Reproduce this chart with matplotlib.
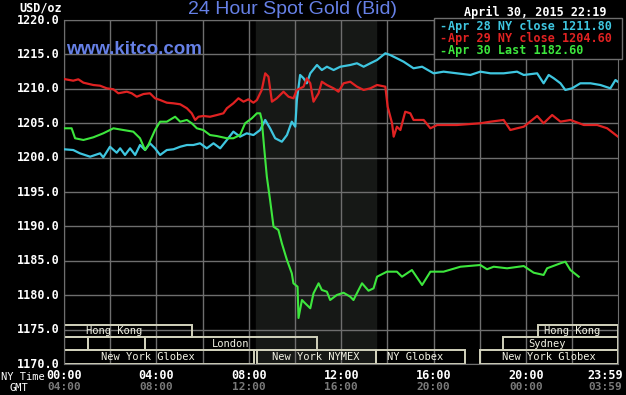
import numpy as np
import matplotlib
matplotlib.use("Agg")
import matplotlib.pyplot as plt
from matplotlib.patches import Rectangle

# Data (hours after 00:00 NY time, USD/oz)
apr28_t = [0.0, 0.40, 0.69, 1.13, 1.56, 1.70, 1.99, 2.28, 2.43, 2.64, 2.86, 3.08, 3.29, 3.51,
           3.72, 3.94, 4.16, 4.45, 4.74, 5.03, 5.32, 5.60, 5.89, 6.18, 6.47, 6.76, 7.05, 7.33,
           7.62, 7.91, 8.20, 8.49, 8.71, 8.92, 9.14, 9.43, 9.65, 9.86, 10.01, 10.08, 10.22,
           10.37, 10.51, 10.66, 10.95, 11.16, 11.38, 11.67, 11.96, 12.39, 12.68, 12.97, 13.26,
           13.55, 13.91, 14.12, 14.41, 14.70, 15.13, 15.50, 16.00, 16.43, 17.01, 17.59, 18.02,
           18.46, 19.03, 19.61, 19.90, 20.48, 20.76, 20.98, 21.20, 21.49, 21.70, 21.99, 22.35,
           22.79, 23.22, 23.65, 23.87, 23.98]
apr28_v = [1201.21, 1201.10, 1200.62, 1200.13, 1200.62, 1200.04, 1201.58, 1200.71, 1201.35,
           1200.38, 1201.35, 1200.38, 1201.83, 1201.10, 1202.08, 1201.35, 1200.38, 1201.10,
           1201.21, 1201.58, 1201.83, 1201.83, 1202.08, 1201.35, 1202.08, 1201.35, 1202.56,
           1203.77, 1203.04, 1203.53, 1203.28, 1204.01, 1205.47, 1204.26, 1202.81, 1202.31,
           1203.28, 1205.22, 1204.49, 1208.37, 1212.01, 1211.53, 1210.80, 1212.25, 1213.46,
           1212.73, 1213.21, 1212.73, 1213.21, 1213.46, 1213.71, 1213.21, 1213.71, 1214.19,
           1215.16, 1214.91, 1214.43, 1213.94, 1212.98, 1213.21, 1212.25, 1212.49, 1212.25,
           1212.01, 1212.49, 1212.25, 1212.25, 1212.49, 1212.01, 1212.25, 1210.80, 1212.01,
           1211.53, 1210.80, 1209.83, 1210.07, 1210.80, 1210.80, 1210.55, 1210.07, 1211.28,
           1211.00]

apr29_t = [0.0, 0.40, 0.62, 0.84, 1.27, 1.56, 1.85, 2.14, 2.35, 2.72, 2.93, 3.15, 3.44, 3.72,
           3.94, 4.16, 4.45, 4.74, 5.03, 5.32, 5.53, 5.68, 5.82, 6.03, 6.32, 6.62, 6.90, 7.05,
           7.33, 7.55, 7.77, 7.98, 8.20, 8.35, 8.56, 8.71, 8.85, 9.00, 9.21, 9.50, 9.72, 9.93,
           10.08, 10.37, 10.51, 10.66, 10.80, 11.02, 11.16, 11.38, 11.67, 11.88, 12.10, 12.39,
           12.68, 12.97, 13.26, 13.55, 13.91, 14.01, 14.20, 14.27, 14.41, 14.56, 14.77, 14.99,
           15.13, 15.57, 15.86, 16.15, 17.01, 18.02, 18.46, 19.03, 19.32, 19.61, 19.90, 20.48,
           20.76, 21.13, 21.49, 21.92, 22.50, 23.08, 23.51, 23.98]
apr29_v = [1211.42, 1211.18, 1211.38, 1210.89, 1210.55, 1210.45, 1210.07, 1209.93, 1209.35,
           1209.58, 1209.35, 1208.85, 1209.24, 1209.35, 1208.62, 1208.37, 1207.98, 1207.89,
           1207.75, 1207.17, 1206.44, 1205.47, 1205.94, 1206.05, 1205.94, 1206.19, 1206.44,
           1207.17, 1207.89, 1208.62, 1208.13, 1208.47, 1207.98, 1208.37, 1209.83, 1212.25,
           1211.76, 1208.13, 1208.62, 1209.58, 1208.85, 1208.62, 1209.83, 1210.31, 1211.53,
           1210.80, 1208.13, 1209.35, 1211.03, 1210.55, 1210.07, 1209.58, 1210.80, 1211.03,
           1210.31, 1209.83, 1210.07, 1210.55, 1210.31, 1207.40, 1204.99, 1203.04, 1204.49,
           1204.01, 1206.67, 1206.44, 1205.47, 1205.47, 1204.26, 1204.74, 1204.74, 1204.99,
           1205.22, 1205.47, 1204.01, 1204.26, 1204.49, 1206.05, 1204.99, 1206.19, 1205.22,
           1205.47, 1204.74, 1204.74, 1204.26, 1203.04]

apr30_t = [0.0, 0.33, 0.48, 0.84, 1.27, 1.70, 2.14, 2.57, 3.00, 3.29, 3.51, 3.65, 3.94, 4.16,
           4.45, 4.81, 5.03, 5.32, 5.53, 5.75, 6.03, 6.32, 6.62, 7.05, 7.33, 7.62, 7.84, 8.13,
           8.35, 8.49, 8.56, 8.66, 8.78, 8.92, 9.07, 9.28, 9.43, 9.65, 9.86, 9.93, 10.11, 10.15,
           10.30, 10.44, 10.66, 10.80, 11.02, 11.16, 11.38, 11.52, 11.81, 12.10, 12.39, 12.53,
           12.75, 12.90, 13.18, 13.40, 13.55, 13.98, 14.41, 14.63, 15.06, 15.50, 15.86, 16.43,
           17.16, 18.02, 18.31, 18.60, 19.18, 19.90, 20.33, 20.76, 20.91, 21.49, 21.70, 21.92,
           22.28]
apr30_v = [1204.26, 1204.26, 1202.81, 1202.56, 1202.95, 1203.53, 1204.26, 1204.01, 1203.77,
           1202.81, 1201.10, 1201.83, 1204.01, 1205.22, 1205.22, 1205.94, 1205.22, 1205.47,
           1204.99, 1204.26, 1204.01, 1203.28, 1203.13, 1202.81, 1202.81, 1203.28, 1204.99,
           1205.71, 1206.44, 1206.44, 1205.47, 1201.58, 1197.22, 1193.84, 1189.96, 1189.48,
           1187.54, 1185.12, 1183.18, 1181.73, 1181.24, 1176.69, 1179.30, 1178.82, 1178.10,
           1180.28, 1181.73, 1180.76, 1180.51, 1179.30, 1180.03, 1180.36, 1179.78, 1179.30,
           1180.76, 1181.73, 1180.65, 1181.00, 1182.69, 1183.42, 1183.42, 1182.69, 1183.66,
           1181.48, 1183.42, 1183.42, 1184.14, 1184.39, 1183.77, 1184.14, 1183.91, 1184.24,
           1183.27, 1182.94, 1183.91, 1184.64, 1184.87, 1183.66, 1182.69]

legend_labels = ["Apr 28 NY close 1211.80", "Apr 29 NY close 1204.60", "Apr 30 Last 1182.60"]

ny_ticks = [0, 4, 8, 12, 16, 20, 23.98]
ny_labels = ["00:00", "04:00", "08:00", "12:00", "16:00", "20:00", "23:59"]
gmt_labels = ["04:00", "08:00", "12:00", "16:00", "20:00", "00:00", "03:59"]

# trading sessions: name, row (0 = top), start, end, label position (hours)
sessions = [
    ("Hong Kong", 0, 0.0, 5.55, 2.15),
    ("Hong Kong", 0, 20.5, 23.98, 22.0),
    ("", 1, 0.0, 1.04, None),
    ("", 1, 1.04, 3.5, None),
    ("London", 1, 3.5, 10.96, 7.2),
    ("Sydney", 1, 19.0, 23.98, 20.9),
    ("New York Globex", 2, 0.0, 8.23, 3.64),
    ("New York NYMEX", 2, 8.36, 13.5, 10.9),
    ("NY Globex", 2, 13.5, 17.37, 15.2),
    ("New York Globex", 2, 18.0, 23.98, 20.97),
]
nymex_open, nymex_close = 8.33, 13.5

cyan = "#3fc6e0"
red = "#e02222"
green = "#3de63d"
blue = "#6680e6"
grid_c = "#6e6e6e"
mono = "DejaVu Sans Mono"

fig = plt.figure(figsize=(6.26, 3.95), dpi=100, facecolor="black")
ax = fig.add_axes([64 / 626, 31 / 395, 554 / 626, 344 / 395])
ax.set_facecolor("black")
ax.set_xlim(0, 23.98)
ax.set_ylim(1170, 1220)

# NYMEX shading
ax.axvspan(nymex_open, nymex_close, color="#161816", zorder=0)

# grid
ax.set_xticks(np.arange(0, 24, 2))
ax.set_yticks(np.arange(1170, 1221, 5))
ax.grid(True, color=grid_c, lw=1, zorder=1)
ax.tick_params(length=0, labelbottom=False, labelleft=False)
for s in ax.spines.values():
    s.set_color(grid_c)

# series
ax.plot(apr28_t, apr28_v, color=cyan, lw=1.6, zorder=3)
ax.plot(apr29_t, apr29_v, color=red, lw=1.6, zorder=3)
ax.plot(apr30_t, apr30_v, color=green, lw=1.5, zorder=4)

# session boxes
row_h = [1175.7, 1173.9, 1172.0, 1170.0]
for name, row, t0, t1, tx in sessions:
    y0 = row_h[row + 1]
    y1 = row_h[row]
    ax.add_patch(Rectangle((t0, y0), t1 - t0, y1 - y0, fill=False, ec="#d2d2bc", lw=1.4, zorder=2))
    if name:
        ax.text(tx, (y0 + y1) / 2, name, color="#f2f2e4", fontsize=7.5, family=mono,
                ha="center", va="center", zorder=5)

# y labels
for v in np.arange(1170, 1221, 5):
    ax.text(-0.17, v, "%.1f" % v, color="white", fontsize=8.5, family=mono, weight="bold",
            ha="right", va="center", transform=ax.transData, clip_on=False)

# x labels, NY time and GMT
trans = ax.get_xaxis_transform()
for t, a, b in zip(ny_ticks, ny_labels, gmt_labels):
    tx = t if t < 23 else 23.44
    ax.text(tx, -0.032, a, color="white", fontsize=8.5, family=mono, weight="bold",
            ha="center", va="center", transform=trans, clip_on=False)
    ax.text(tx, -0.068, b, color="#7a7a7a", fontsize=8, family=mono, weight="bold",
            ha="center", va="center", transform=trans, clip_on=False)
fig.text(1 / 626, 1 - 377 / 395, "NY Time", color="white", fontsize=7.5, family=mono,
         ha="left", va="center")
fig.text(10 / 626, 1 - 388 / 395, "GMT", color="white", fontsize=7.5, family=mono,
         ha="left", va="center")

# titles
fig.text(292 / 626, 1 - 9 / 395, "24 Hour Spot Gold (Bid)", color=blue, fontsize=14,
         family="Liberation Sans", ha="center", va="center")
fig.text(19 / 626, 1 - 8 / 395, "USD/oz", color="white", fontsize=8.5, family=mono,
         weight="bold", ha="left", va="center")
fig.text(606 / 626, 1 - 12 / 395, "April 30, 2015 22:19", color="white", fontsize=8.5,
         family=mono, weight="bold", ha="right", va="center")
ax.text(0.004, 0.915, "www.kitco.com", color=blue, fontsize=13.5, family="Liberation Sans",
        weight="bold", ha="left", va="center", transform=ax.transAxes, zorder=5)

# legend box
ax.add_patch(Rectangle((0.668, 0.886), 0.34, 0.12, transform=ax.transAxes, fc="black",
                       ec=grid_c, lw=1, zorder=6, clip_on=False))
for i, (lab, c) in enumerate(zip(legend_labels, [cyan, red, green])):
    yy = 0.982 - i * 0.036
    ax.text(0.678, yy, "-", color=c, fontsize=8.5, family=mono, weight="bold",
            ha="left", va="center", transform=ax.transAxes, zorder=7)
    ax.text(0.694, yy, lab, color=c, fontsize=8.5, family=mono, weight="bold",
            ha="left", va="center", transform=ax.transAxes, zorder=7)

fig.savefig("out.png", dpi=100, facecolor="black")
